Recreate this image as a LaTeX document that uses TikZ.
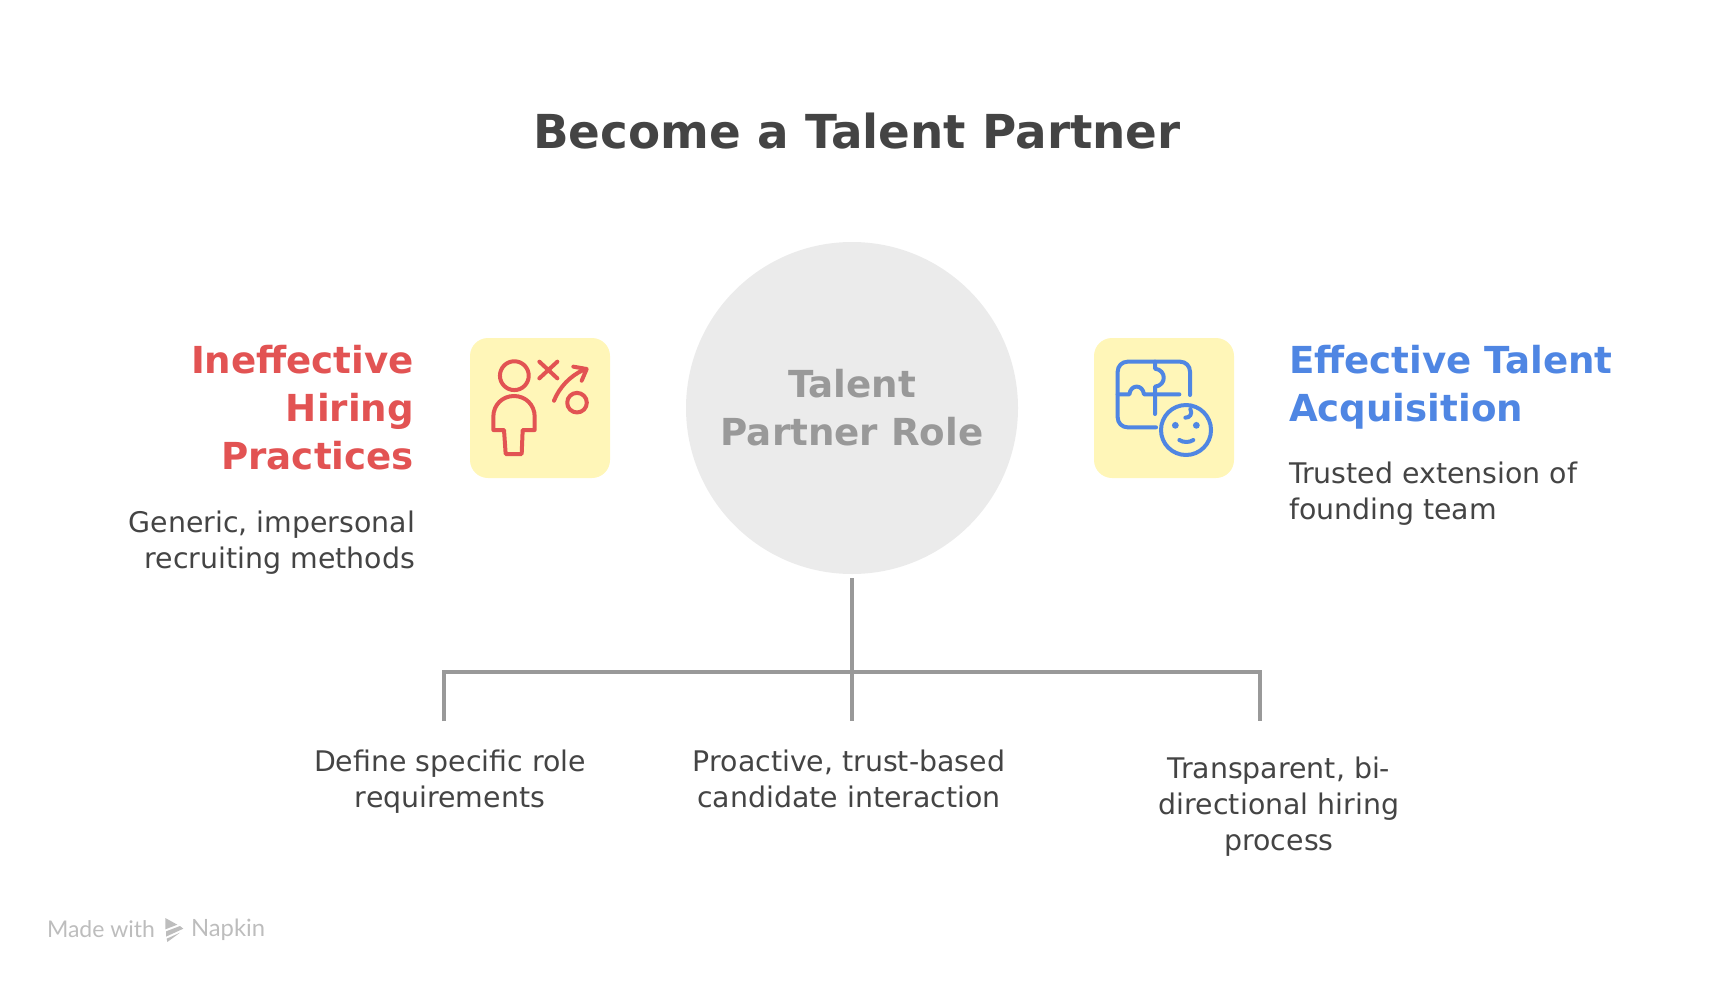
\documentclass[tikz,border=0pt]{standalone}
\usepackage{fontspec}
\setmainfont{DejaVu Sans}
\newfontfamily\wm{Lato}
\definecolor{ink}{HTML}{444444}
\definecolor{redc}{HTML}{E25353}
\definecolor{bluec}{HTML}{4F86E3}
\definecolor{yel}{HTML}{FFF6B8}
\definecolor{disc}{HTML}{EBEBEB}
\definecolor{grayt}{HTML}{999999}
\definecolor{wmc}{HTML}{BDBDBD}
\tikzset{
 every node/.style={inner sep=0pt,outer sep=0pt},
 titlet/.style={font=\fontsize{23.4}{28}\selectfont\bfseries,text=ink},
 headt/.style={font=\fontsize{18.6}{24}\selectfont\bfseries,align=#1},
 bodyt/.style={font=\fontsize{14.2}{18}\selectfont,text=ink,align=#1},
 discn/.style={circle,fill=disc,minimum size=166pt},
 tile/.style={rounded corners=9pt,fill=yel,minimum size=70pt},
 conn/.style={draw=grayt,line width=1.9pt},
 icon/.style={line width=2pt,line cap=round,line join=round},
}
\begin{document}
\begin{tikzpicture}[x=.5pt,y=-.5pt]
\useasboundingbox (0,0) rectangle (1716,984);
\node[titlet] (title) at (857,131) {Become a Talent Partner};
\node[discn] (hubdisc) at (852,408) {};
\node[font=\fontsize{18.6}{24}\selectfont\bfseries,text=grayt,align=center] (hublabel) at (852,408) {Talent\\Partner Role};
\node[tile] (tilel) at (540,408) {};
\node[tile] (tiler) at (1164,408) {};
\node[headt=right,text=redc,anchor=north east] (hl) at (414,345) {Ineffective\\Hiring\\Practices};
\node[bodyt=right,anchor=north east] (bl) at (415,511) {Generic, impersonal\\recruiting methods};
\node[headt=left,text=bluec,anchor=north west] (hr) at (1289,345) {Effective Talent\\Acquisition};
\node[bodyt=left,anchor=north west] (br) at (1289,462) {Trusted extension of\\founding team};
\node[bodyt=center,anchor=north] (t1) at (450,750) {Define specific role\\requirements};
\node[bodyt=center,anchor=north] (t2) at (849,750) {Proactive, trust-based\\candidate interaction};
\node[bodyt=center,anchor=north] (t3) at (1279,757) {Transparent, bi-\\directional hiring\\process};
\coordinate (jc) at (852,672);
\coordinate (jl) at (444,672);
\coordinate (jr) at (1260,672);
\coordinate (el) at (444,721);
\coordinate (ec) at (852,721);
\coordinate (er) at (1260,721);
\draw[conn,shorten <=2pt] (hubdisc.south) -- (jc) -- (ec);
\draw[conn] (el) -- (jl) -- (jr) -- (er);
\begin{scope}[shift={(440,310)},x=.16667pt,y=-.16667pt,icon,draw=redc]
 \draw (223,197) circle[radius=7.2pt];
 \draw (192,360) -- (160,360) -- (160,320) .. controls (160,285) and (187,258) .. (222,258) .. controls (257,258) and (284,285) .. (284,320) -- (284,360) -- (248,360) -- (245,432) -- (197,432) -- cycle;
 \draw (298,155) -- (352,205) (352,155) -- (298,205);
 \draw (342,272) .. controls (358,232) and (390,198) .. (430,180);
 \draw (400,170) -- (440,177) -- (425,212);
 \draw (411,278) circle[radius=4.9pt];
\end{scope}
\begin{scope}[shift={(1080,310)},x=.16667pt,y=-.16667pt,icon,draw=bluec]
 \draw (330,255) -- (330,185) .. controls (330,168) and (317,155) .. (300,155) -- (143,155) .. controls (126,155) and (113,168) .. (113,185) -- (113,322) .. controls (113,339) and (126,352) .. (143,352) -- (228,352);
 \draw (225,155) -- (225,176) .. controls (260,180) and (260,226) .. (225,230) -- (225,312);
 \draw (113,253) -- (148,253) .. controls (152,222) and (188,222) .. (192,253) -- (298,253);
 \draw (318,360) circle[radius=12.5pt];
 \fill[bluec] (286,346) circle[radius=1.7pt] (349,346) circle[radius=1.7pt];
 \draw (298,390) .. controls (310,398) and (328,398) .. (340,390);
 \draw (331,297) .. controls (338,312) and (330,323) .. (316,323);
\end{scope}
\node[font=\wm\fontsize{11.5}{13}\selectfont,text=wmc,anchor=west] (wm1) at (47,929) {Made with};
\node[font=\wm\fontsize{11.9}{13}\selectfont,text=wmc,anchor=west] (wm2) at (191,930) {Napkin};
\begin{scope}[shift={(20,900)},x=.16667pt,y=-.16667pt]
 \fill[wmc] (436,54) -- (472,74) -- (436,88) -- cycle;
 \fill[wmc] (438,94) -- (480,78) -- (490,86) -- (438,110) -- cycle;
 \fill[wmc] (440,116) -- (480,98) -- (442,126) -- cycle;
\end{scope}
\end{tikzpicture}
\end{document}
